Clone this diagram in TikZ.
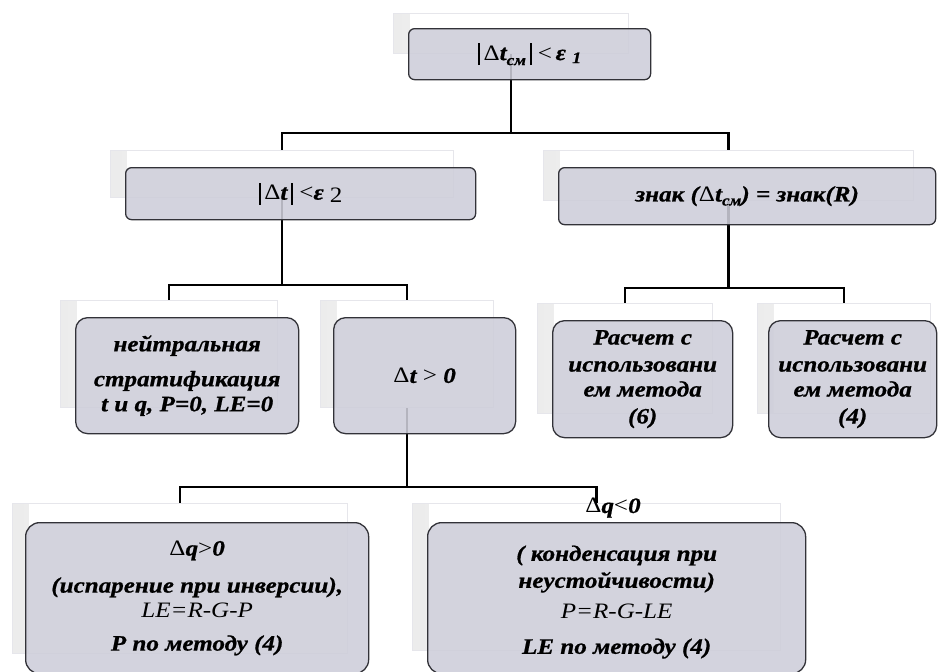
\documentclass[tikz,border=0pt]{standalone}
\usepackage{fontspec}
\setmainfont{Liberation Serif}[FakeStretch=1.14, BoldItalicFeatures={FakeBold=0.8}]
\usetikzlibrary{backgrounds}
\definecolor{boxfill}{RGB}{205,205,217}
\definecolor{boxedge}{RGB}{50,50,56}
\definecolor{panedge}{RGB}{230,230,235}
\newcommand{\vbarr}{\rule[-5pt]{1.9pt}{22pt}}
\newcommand{\dlt}{{\normalfont Δ}}
\tikzset{
  backpanel/.style={draw=panedge, fill=white, line width=0.8pt, inner sep=0pt, anchor=north west,
    path picture={\shade[left color=gray!15, right color=white]
      (path picture bounding box.north west) rectangle ([xshift=16pt]path picture bounding box.south west);}},
  frontbox/.style={draw=boxedge, fill=boxfill, fill opacity=0.88, text opacity=1, line width=1.3pt,
    rounded corners=#1, inner sep=0pt, anchor=north west, align=center,
    font=\bfseries\itshape\fontsize{22}{27}\selectfont},
  frontbox/.default=6pt,
  conn/.style={line width=2.4pt, black},
}
\begin{document}
\begin{tikzpicture}[x=1pt,y=-1pt]
\useasboundingbox (0,0) rectangle (938,672);
\clip (0,0) rectangle (938,672);
% level 1
\node[backpanel, minimum width=235pt, minimum height=40pt] (topB) at (393,13) {};
\node[frontbox, minimum width=242pt, minimum height=51pt] (topF) at (408,28)
  {\raisebox{3pt}{\vbarr\,\dlt t\raisebox{-5pt}{\fontsize{15}{15}\selectfont см}\,\vbarr\ {\normalfont<}\,ε\ \raisebox{-3pt}{\fontsize{16}{16}\selectfont 1}}};
% level 2
\node[backpanel, minimum width=343pt, minimum height=47pt] (l2aB) at (110,150) {};
\node[frontbox, minimum width=350pt, minimum height=52pt] (l2aF) at (125,167)
  {\vbarr\,\dlt t\,\vbarr\ {\normalfont<}ε\ \raisebox{-3pt}{\normalfont 2}};
\node[backpanel, minimum width=370pt, minimum height=50pt] (l2bB) at (543,150) {};
\node[frontbox, minimum width=377pt, minimum height=57pt] (l2bF) at (558,167)
  {знак (\dlt t\raisebox{-4pt}{\fontsize{15}{15}\selectfont см}) = знак(R)};
% level 3
\node[backpanel, minimum width=217pt, minimum height=107pt] (l3aB) at (60,300) {};
\node[frontbox=12pt, minimum width=223pt, minimum height=116pt] (l3aF) at (75,317)
  {нейтральная\\[8pt] стратификация\\[-2pt] t и q, P=0, LE=0};
\node[backpanel, minimum width=173pt, minimum height=107pt] (l3bB) at (320,300) {};
\node[frontbox=12pt, minimum width=182pt, minimum height=116pt] (l3bF) at (333,317)
  {\dlt t {\normalfont >} 0};
\node[backpanel, minimum width=175pt, minimum height=110pt] (l3cB) at (537,303) {};
\node[frontbox=12pt, minimum width=180pt, minimum height=117pt] (l3cF) at (552,320)
  {Расчет с\\ использовани\\[-2pt] ем метода\\ (6)};
\node[backpanel, minimum width=173pt, minimum height=110pt] (l3dB) at (757,303) {};
\node[frontbox=12pt, minimum width=168pt, minimum height=117pt] (l3dF) at (768,320)
  {Расчет с\\ использовани\\[-2pt] ем метода\\ (4)};
% level 4
\node[backpanel, minimum width=335pt, minimum height=150pt] (l4aB) at (12,503) {};
\node[frontbox=14pt, minimum width=343pt, minimum height=151pt] (l4aF) at (25,522)
  {\dlt q{\normalfont >}0\\[10pt] (испарение при инверсии),\\[-2pt] {\mdseries LE=R-G-P}\\[6pt] P по методу (4)};
\node[backpanel, minimum width=368pt, minimum height=147pt] (l4bB) at (412,503) {};
\node[frontbox=14pt, minimum width=378pt, minimum height=151pt] (l4bF) at (427,522)
  {\\[-4pt]( конденсация при\\ неустойчивости)\\[4pt] {\mdseries P=R-G-LE}\\[8pt] LE по методу (4)};
\node[font=\bfseries\itshape\fontsize{22}{24}\selectfont, inner sep=0pt] (dq) at (613,508) {\dlt q{\normalfont <}0};
% connectors
\coordinate (bus1) at (0,133);
\coordinate (bus2) at (0,285);
\coordinate (bus3) at (0,288);
\coordinate (bus4) at (0,487);
\begin{pgfonlayer}{background}
\draw[conn] (topB.center) -- (topB.center |- bus1) -| (l2aB.north);
\draw[conn] (topB.center |- bus1) -| (l2bB.north);
\draw[conn] (l2aB.center) -- (l2aB.center |- bus2) -| (l3aB.north);
\draw[conn] (l2aB.center |- bus2) -| (l3bB.north);
\draw[conn] (l2bB.center) -- (l2bB.center |- bus3) -| (l3cB.north);
\draw[conn] (l2bB.center |- bus3) -| (l3dB.north);
\draw[conn] (l3bB.center) -- (l3bB.center |- bus4) -| (l4aB.north);
\draw[conn] (l3bB.center |- bus4) -| (l4bB.north);
\end{pgfonlayer}
\end{tikzpicture}
\end{document}
